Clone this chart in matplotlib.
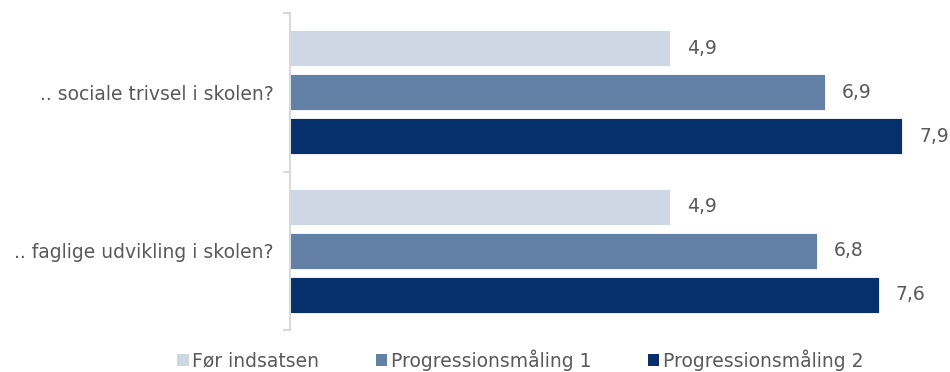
import numpy as np
import matplotlib.pyplot as plt
from matplotlib.patches import Patch

# data
kategorier = ['.. sociale trivsel i skolen?', '.. faglige udvikling i skolen?']
serier = ['Før indsatsen', 'Progressionsmåling 1', 'Progressionsmåling 2']
foer = [4.9, 4.9]
prog1 = [6.9, 6.8]
prog2 = [7.9, 7.6]
farver = ['#CFD7E4', '#6380A6', '#06306B']
tekstfarve = '#595959'

plt.rcParams['font.family'] = ['DejaVu Sans']
fs = 13.5

fig = plt.figure(figsize=(9.5, 3.72), dpi=100)
ax = fig.add_axes([290/950, 1 - 330/372, 1 - 290/950, 317/372])

y = np.arange(len(kategorier))
hoejde = 0.228
trin = 0.278

for i, (vaerdier, farve, navn) in enumerate(zip([foer, prog1, prog2], farver, serier)):
    pos = y + (i - 1) * trin
    ax.barh(pos, vaerdier, height=hoejde, color=farve, edgecolor='white', linewidth=0.6, label=navn)
    for p, v in zip(pos, vaerdier):
        ax.text(v + 0.22, p, f'{v:.1f}'.replace('.', ','), va='center', ha='left',
                fontsize=fs, color=tekstfarve)

ax.set_xlim(0, 8.52)
ax.set_ylim(1.5, -0.5)
ax.set_yticks(y)
ax.set_yticklabels(kategorier, fontsize=fs, color=tekstfarve)
ax.set_yticks([-0.5, 0.5, 1.5], minor=True)
ax.tick_params(axis='y', which='major', length=0, pad=12)
ax.tick_params(axis='y', which='minor', length=5, color='#D9D9D9', width=1.5)
ax.set_xticks([])
for s in ['top', 'right', 'bottom']:
    ax.spines[s].set_visible(False)
ax.spines['left'].set_color('#D9D9D9')
ax.spines['left'].set_linewidth(1.5)

handles = [Patch(facecolor=f, edgecolor='none') for f in farver]
fig.legend(handles, serier, loc='lower left', bbox_to_anchor=(160/950, -0.042), ncol=3,
           frameon=False, fontsize=fs, labelcolor=tekstfarve, handlelength=0.62,
           handleheight=0.62, handletextpad=0.2, columnspacing=3.0)

fig.savefig('out.png', dpi=100)
